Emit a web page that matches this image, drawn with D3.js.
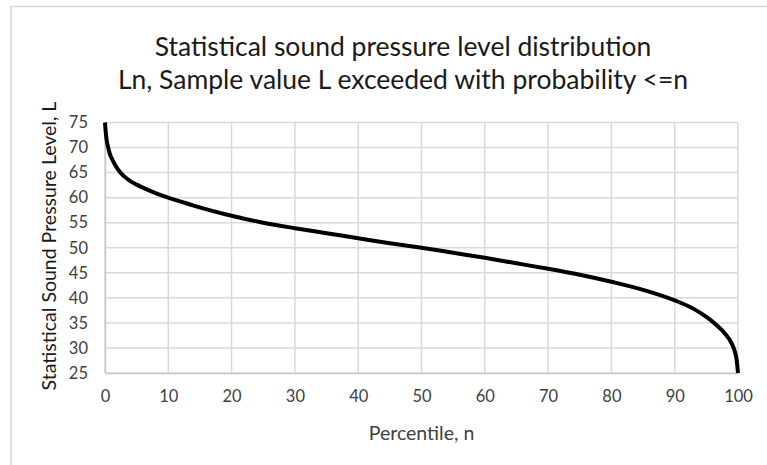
<!DOCTYPE html>
<html>
<head>
<meta charset="utf-8">
<script src="https://cdn.jsdelivr.net/npm/d3@7"></script>
<style>
  html, body { margin: 0; padding: 0; background: #fff; }
  svg { display: block; font-family: Lato, "Open Sans", sans-serif; }
</style>
</head>
<body>
<svg id="chart" width="767" height="465"></svg>
<script>
// Percentile n (%) and the level L exceeded with probability <= n
const percentiles = [0, 0.1, 0.25, 0.5, 0.8, 1.2, 1.7, 2.3, 3, 4, 5, 6.5, 8, 10, 12, 14, 16.5, 19, 22, 25, 30, 35, 40, 45, 50, 55, 60, 65, 70, 75, 80, 85, 90, 93, 95, 96.5, 98, 99, 99.5, 99.8, 100];
const levels      = [75, 73.3, 71.6, 70.0, 68.6, 67.5, 66.3, 65.2, 64.3, 63.3, 62.6, 61.7, 60.9, 60.0, 59.2, 58.4, 57.5, 56.7, 55.8, 55.0, 53.9, 52.9, 51.9, 50.9, 50, 49, 48, 46.9, 45.8, 44.6, 43.2, 41.6, 39.5, 37.8, 36.2, 34.7, 32.8, 30.9, 29.3, 27.5, 25];

const xTicks = [0, 10, 20, 30, 40, 50, 60, 70, 80, 90, 100];
const yTicks = [25, 30, 35, 40, 45, 50, 55, 60, 65, 70, 75];

const titleLines = ["Statistical sound pressure level distribution", "Ln, Sample value L exceeded with probability <=n"];
const xTitle = "Percentile, n";
const yTitle = "Statistical Sound Pressure Level, L";

const svg = d3.select("#chart");
const W = 767, H = 465;
const plotLeft = 105, plotRight = 738, plotTop = 122.5, plotBottom = 373;

const x = d3.scaleLinear().domain([0, 100]).range([plotLeft, plotRight]);
const y = d3.scaleLinear().domain([25, 75]).range([plotBottom, plotTop]);

// outer chart frame
svg.append("rect")
  .attr("x", 11).attr("y", 6.5)
  .attr("width", W + 20).attr("height", H + 20)
  .attr("fill", "none").attr("stroke", "#d9d9d9").attr("stroke-width", 1.5);

// gridlines
const grid = svg.append("g");
grid.selectAll("line.h").data(yTicks).join("line")
  .attr("x1", plotLeft).attr("x2", plotRight)
  .attr("y1", d => y(d)).attr("y2", d => y(d))
  .attr("stroke", "#d9d9d9").attr("stroke-width", 1.5);
grid.selectAll("line.v").data(xTicks).join("line")
  .attr("y1", plotTop).attr("y2", plotBottom)
  .attr("x1", d => x(d)).attr("x2", d => x(d))
  .attr("stroke", "#d9d9d9").attr("stroke-width", 1.5);

// axes
const xAxis = d3.axisBottom(x).tickValues(xTicks).tickSize(0).tickPadding(17);
const yAxis = d3.axisLeft(y).tickValues(yTicks).tickSize(0).tickPadding(17);

const gx = svg.append("g").attr("transform", `translate(0,${plotBottom})`).call(xAxis);
const gy = svg.append("g").attr("transform", `translate(${plotLeft},0)`).call(yAxis);
[gx, gy].forEach(g => {
  g.select(".domain").attr("stroke", "#c8c8c8").attr("stroke-width", 1.5);
  g.selectAll("text").attr("fill", "#404040").attr("font-size", 16.5)
    .attr("font-family", "Lato, 'Open Sans', sans-serif");
});

// curve
svg.append("path")
  .datum(percentiles.map((p, i) => [p, levels[i]]))
  .attr("fill", "none").attr("stroke", "#000").attr("stroke-width", 4)
  .attr("stroke-linejoin", "round")
  .attr("d", d3.line().x(d => x(d[0])).y(d => y(d[1])).curve(d3.curveMonotoneX));

// titles
svg.selectAll("text.title").data(titleLines).join("text")
  .attr("class", "title")
  .attr("x", 403).attr("y", (d, i) => 56 + i * 33)
  .attr("text-anchor", "middle").attr("font-size", 26.5).attr("fill", "#1a1a1a")
  .text(d => d);

svg.append("text")
  .attr("x", (plotLeft + plotRight) / 2).attr("y", 440)
  .attr("text-anchor", "middle").attr("font-size", 19.5).attr("fill", "#404040")
  .text(xTitle);

svg.append("text")
  .attr("transform", `translate(56,${246}) rotate(-90)`)
  .attr("text-anchor", "middle").attr("font-size", 19.5).attr("fill", "#1a1a1a")
  .text(yTitle);
</script>
</body>
</html>
